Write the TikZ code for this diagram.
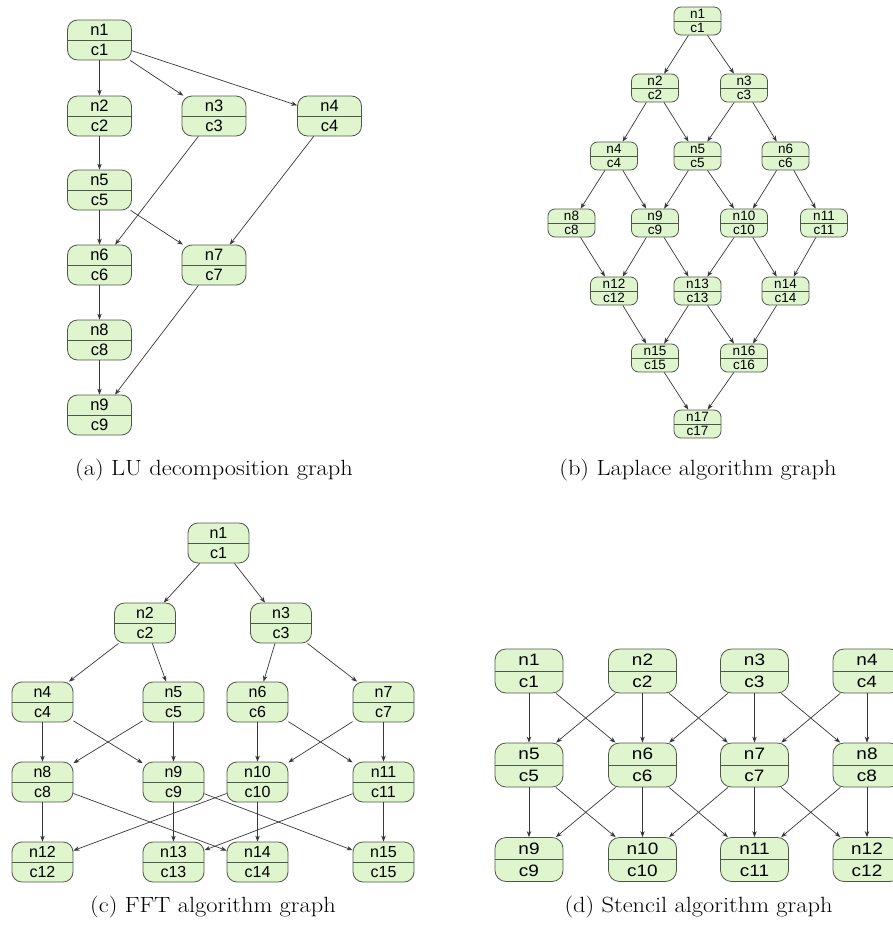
\documentclass[tikz,border=0pt]{standalone}
\usepackage{fontspec}
\usepackage{graphicx}
\usetikzlibrary{arrows.meta}
\newfontfamily\labfont{Liberation Sans}
\newfontfamily\labwide[FakeStretch=1.15]{Liberation Sans}
\definecolor{nodefill}{RGB}{222,245,206}
\definecolor{nodeborder}{RGB}{78,88,74}
\definecolor{edgecol}{RGB}{55,55,55}
% captions are set slightly widened
\newcommand{\capwide}[1]{\scalebox{1.11}[1]{#1}}
\tikzset{
  gbox/.style={draw=nodeborder, fill=nodefill, line width=0.8pt, inner sep=0pt,
    align=center, rounded corners=#1,
    path picture={\draw[nodeborder, line width=0.8pt]
      (path picture bounding box.west) -- (path picture bounding box.east);}},
  nodeA/.style={gbox=10pt, minimum width=64pt, minimum height=40pt,
    font=\labfont\fontsize{16.5}{20}\selectfont},
  nodeB/.style={gbox=7pt, minimum width=47pt, minimum height=28pt,
    font=\labfont\fontsize{13.5}{14}\selectfont},
  nodeC/.style={gbox=10pt, minimum width=61pt, minimum height=40pt,
    font=\labfont\fontsize{16}{20}\selectfont},
  nodeD/.style={gbox=11pt, minimum width=68pt, minimum height=44pt,
    font=\labwide\fontsize{16.5}{22}\selectfont},
  edge/.style={draw=edgecol, line width=0.7pt, -{Stealth[length=6pt,width=4.5pt]}},
  caption/.style={font=\fontsize{22}{26}\selectfont, inner sep=0pt}
}
\begin{document}
\begin{tikzpicture}[x=1pt, y=-1pt]
\useasboundingbox (0,0) rectangle (893,929);
\clip (0,0) rectangle (893,929);

% (a) LU decomposition
\node[nodeA] (a1) at (99.5,40)  {n1\\c1};
\node[nodeA] (a2) at (99.5,116) {n2\\c2};
\node[nodeA] (a3) at (214,116)  {n3\\c3};
\node[nodeA] (a4) at (329.5,116){n4\\c4};
\node[nodeA] (a5) at (99.5,190) {n5\\c5};
\node[nodeA] (a6) at (99.5,265) {n6\\c6};
\node[nodeA] (a7) at (214,265)  {n7\\c7};
\node[nodeA] (a8) at (99.5,340) {n8\\c8};
\node[nodeA] (a9) at (99.5,415) {n9\\c9};
\foreach \s/\t in {1/2,1/3,1/4,2/5,3/6,4/7,5/6,5/7,6/8,7/9,8/9}
  \draw[edge] (a\s) -- (a\t);
\node[caption] (capA) at (214,470) {\capwide{(a) LU decomposition graph}};

% (b) Laplace
\node[nodeB] (b1)  at (697.5,21)  {n1\\c1};
\node[nodeB] (b2)  at (655,88)    {n2\\c2};
\node[nodeB] (b3)  at (744,88)    {n3\\c3};
\node[nodeB] (b4)  at (614,156)   {n4\\c4};
\node[nodeB] (b5)  at (697.5,156) {n5\\c5};
\node[nodeB] (b6)  at (785.5,156) {n6\\c6};
\node[nodeB] (b8)  at (571.5,223) {n8\\c8};
\node[nodeB] (b9)  at (655,223)   {n9\\c9};
\node[nodeB] (b10) at (744,223)   {n10\\c10};
\node[nodeB] (b11) at (824,223)   {n11\\c11};
\node[nodeB] (b12) at (614,291)   {n12\\c12};
\node[nodeB] (b13) at (697.5,291) {n13\\c13};
\node[nodeB] (b14) at (785.5,291) {n14\\c14};
\node[nodeB] (b15) at (655,358)   {n15\\c15};
\node[nodeB] (b16) at (744,358)   {n16\\c16};
\node[nodeB] (b17) at (697.5,424) {n17\\c17};
\foreach \s/\t in {1/2,1/3,2/4,2/5,3/5,3/6,4/8,4/9,5/9,5/10,6/10,6/11,
                   8/12,9/12,9/13,10/13,10/14,11/14,12/15,13/15,13/16,14/16,15/17,16/17}
  \draw[edge] (b\s) -- (b\t);
\node[caption] (capB) at (698,470) {\capwide{(b) Laplace algorithm graph}};

% (c) FFT
\node[nodeC] (c1)  at (218.5,543) {n1\\c1};
\node[nodeC] (c2)  at (145,623)   {n2\\c2};
\node[nodeC] (c3)  at (281,623)   {n3\\c3};
\node[nodeC] (c4)  at (42.5,702)  {n4\\c4};
\node[nodeC] (c5)  at (173.5,702) {n5\\c5};
\node[nodeC] (c6)  at (257.5,702) {n6\\c6};
\node[nodeC] (c7)  at (383.5,702) {n7\\c7};
\node[nodeC] (c8)  at (42.5,782)  {n8\\c8};
\node[nodeC] (c9)  at (173.5,782) {n9\\c9};
\node[nodeC] (c10) at (257.5,782) {n10\\c10};
\node[nodeC] (c11) at (383.5,782) {n11\\c11};
\node[nodeC] (c12) at (42.5,862)  {n12\\c12};
\node[nodeC] (c13) at (173.5,862) {n13\\c13};
\node[nodeC] (c14) at (257.5,862) {n14\\c14};
\node[nodeC] (c15) at (383.5,862) {n15\\c15};
\foreach \s/\t in {1/2,1/3,2/4,2/5,3/6,3/7,4/8,4/9,5/8,5/9,6/10,6/11,7/10,7/11,
                   8/12,8/14,9/13,9/15,10/12,10/14,11/13,11/15}
  \draw[edge] (c\s) -- (c\t);
\node[caption] (capC) at (213,907) {\capwide{(c) FFT algorithm graph}};

% (d) Stencil
\node[nodeD] (d1)  at (529,671)   {n1\\c1};
\node[nodeD] (d2)  at (642.5,671) {n2\\c2};
\node[nodeD] (d3)  at (754.5,671) {n3\\c3};
\node[nodeD] (d4)  at (867,671)   {n4\\c4};
\node[nodeD] (d5)  at (529,765)   {n5\\c5};
\node[nodeD] (d6)  at (642.5,765) {n6\\c6};
\node[nodeD] (d7)  at (754.5,765) {n7\\c7};
\node[nodeD] (d8)  at (867,765)   {n8\\c8};
\node[nodeD] (d9)  at (529,859.5) {n9\\c9};
\node[nodeD] (d10) at (642.5,859.5) {n10\\c10};
\node[nodeD] (d11) at (754.5,859.5) {n11\\c11};
\node[nodeD] (d12) at (867,859.5) {n12\\c12};
\foreach \s/\t in {1/5,1/6,2/5,2/6,2/7,3/6,3/7,3/8,4/7,4/8,
                   5/9,5/10,6/9,6/10,6/11,7/10,7/11,7/12,8/11,8/12}
  \draw[edge] (d\s) -- (d\t);
\node[caption] (capD) at (698.5,907) {\capwide{(d) Stencil algorithm graph}};
\end{tikzpicture}
\end{document}
